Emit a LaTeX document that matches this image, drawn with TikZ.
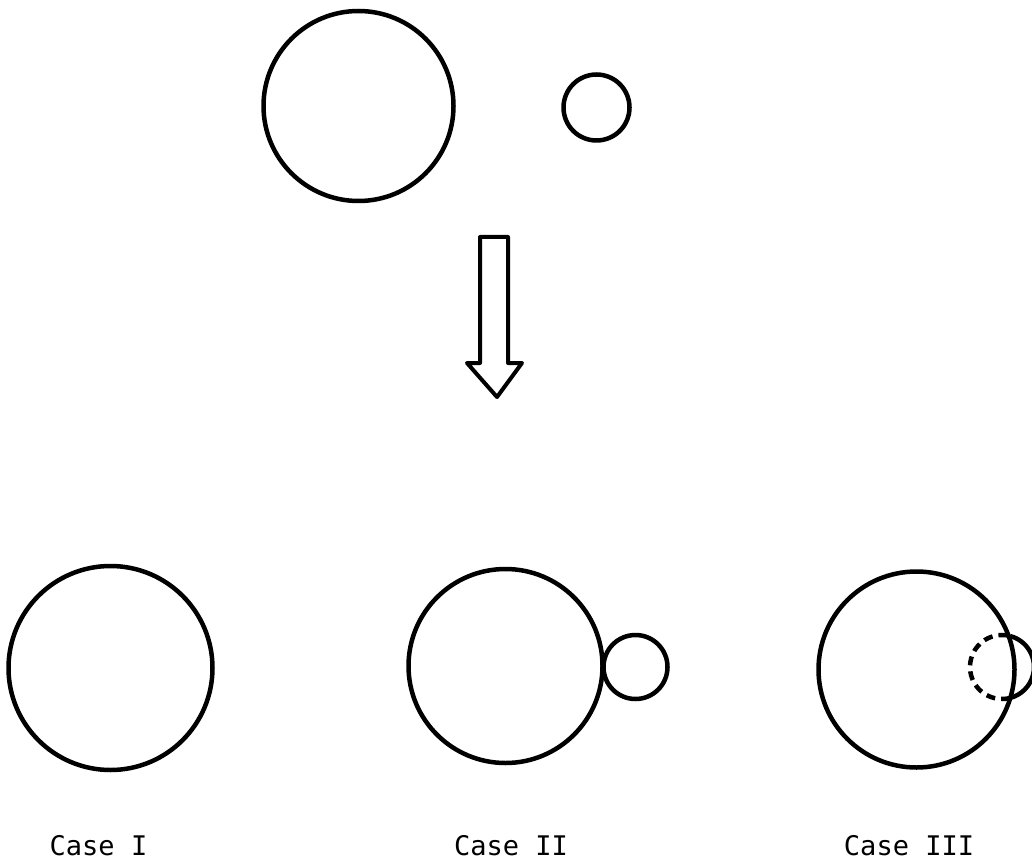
\documentclass[tikz,border=0pt]{standalone}
\usepackage{fontspec}
\setmonofont{DejaVu Sans Mono}
\begin{document}
\begin{tikzpicture}[x=1pt,y=-1pt,
  ring/.style={circle, draw, line width=4.5pt, inner sep=0pt},
  lbl/.style={font=\ttfamily\fontsize{27}{27}\selectfont, inner sep=0pt, anchor=base},
  line join=round]
\useasboundingbox (0,0) rectangle (1032,866);
% top
\node[ring, minimum size=190pt] (bigtop) at (358.5,106) {};
\node[ring, minimum size=66pt] (smalltop) at (596.5,107.5) {};
% hollow arrow
\draw[line width=4pt] (480,237) -- (508,237) -- (508,363) -- (522,363) -- (497,397)
  -- (467,363) -- (480,363) -- cycle;
% case I
\node[ring, minimum size=204pt] (c1) at (110.5,668) {};
% case II
\node[ring, minimum size=194pt] (c2) at (505.5,666) {};
\node[ring, minimum size=64pt] (c2s) at (635.5,667) {};
% case III
\node[ring, minimum size=196pt] (c3) at (916.5,669.5) {};
\coordinate (c3s) at (1002,667);
\draw[line width=4.5pt] (c3s) ++(-75.5:32) arc[start angle=-75.5, end angle=75.5, radius=32];
\draw[line width=4.5pt, dash pattern=on 9pt off 6pt] (c3s) ++(75.5:32) arc[start angle=75.5, end angle=284.5, radius=32];
% labels
\node[lbl] (l1) at (98.5,855) {Case I};
\node[lbl] (l2) at (511,855) {Case II};
\node[lbl] (l3) at (909,855) {Case III};
\end{tikzpicture}
\end{document}
